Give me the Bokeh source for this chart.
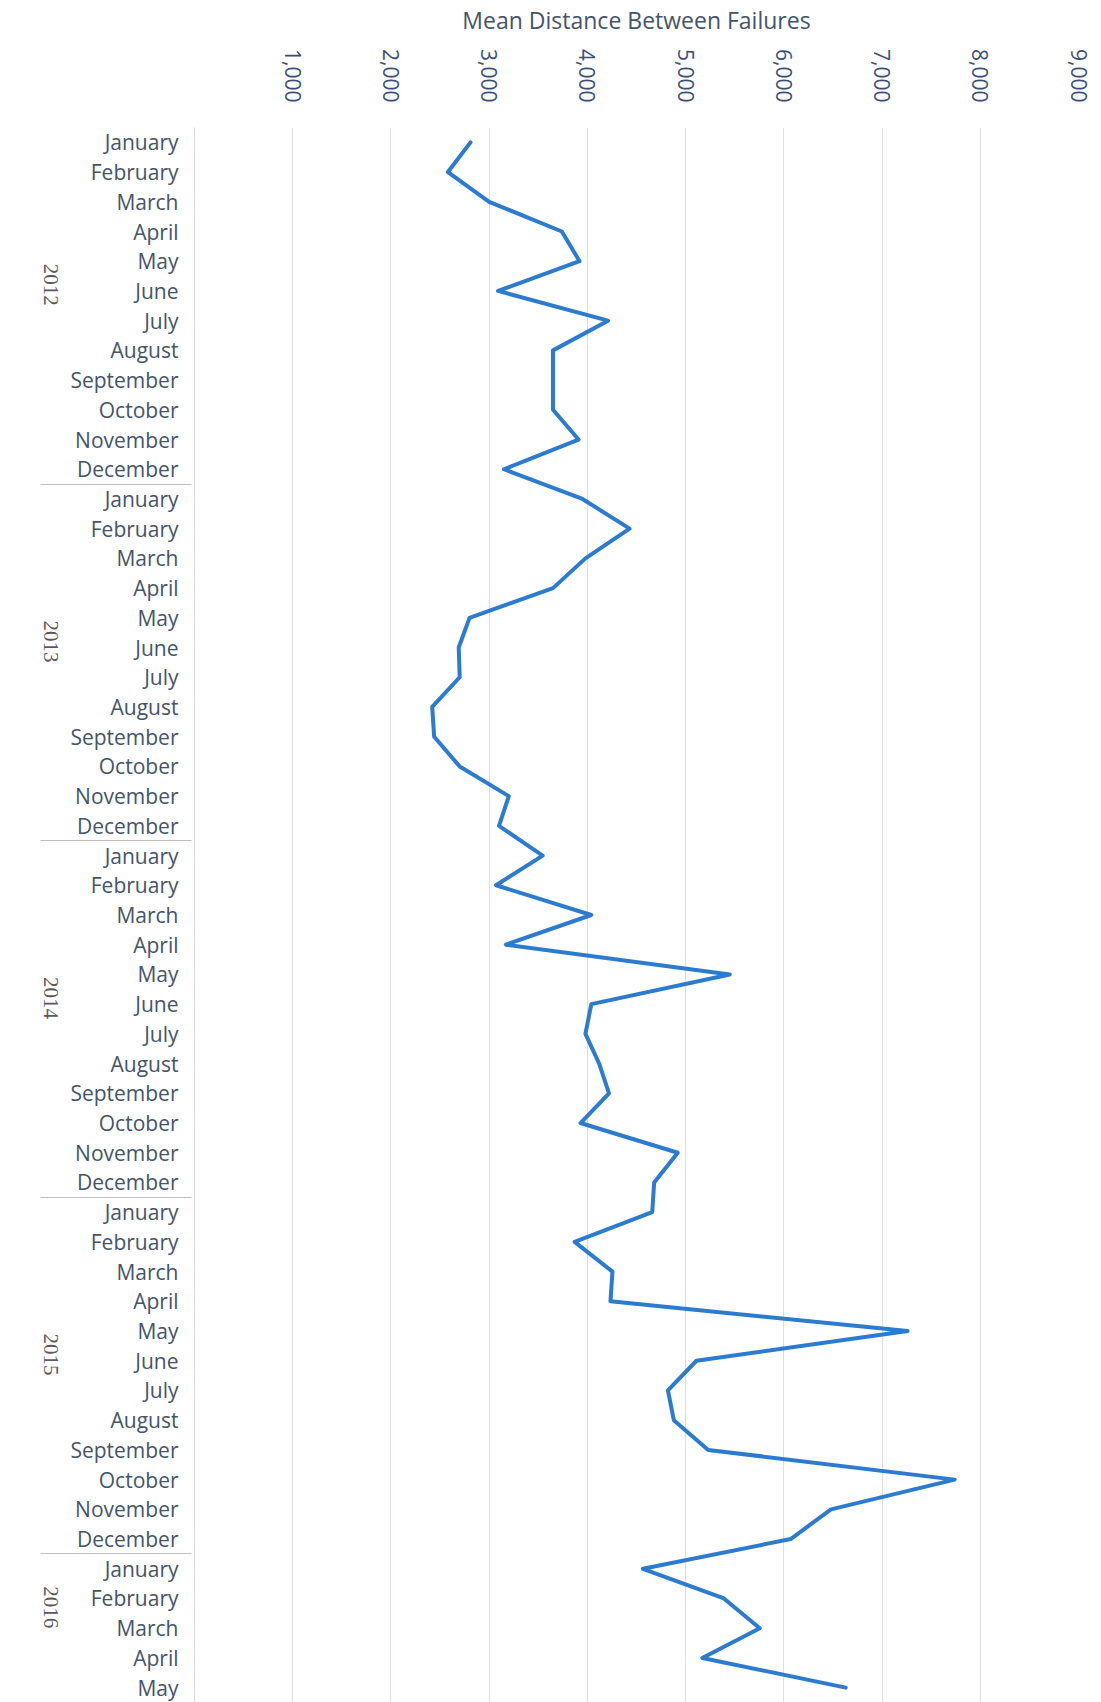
import math
from bokeh.plotting import figure
from bokeh.models import FactorRange, Range1d, NumeralTickFormatter, FixedTicker
from bokeh.embed import file_html
from bokeh.resources import INLINE

years = ["2012", "2013", "2014", "2015", "2016"]
months = ["January", "February", "March", "April", "May", "June", "July",
          "August", "September", "October", "November", "December"]
months_per_year = [12, 12, 12, 12, 5]

mdbf_2012 = [2810, 2580, 3000, 3740, 3920, 3090, 4210, 3650, 3650, 3650, 3910, 3150]
mdbf_2013 = [3950, 4430, 3980, 3650, 2800, 2690, 2700, 2420, 2440, 2700, 3200, 3100]
mdbf_2014 = [3545, 3070, 4040, 3170, 5450, 4040, 3980, 4120, 4220, 3930, 4920, 4680]
mdbf_2015 = [4660, 3870, 4255, 4235, 7260, 5110, 4820, 4880, 5230, 7740, 6480, 6070]
mdbf_2016 = [4565, 5390, 5755, 5170, 6630]

x_ticks = [1000, 2000, 3000, 4000, 5000, 6000, 7000, 8000, 9000]
title_text = "Mean Distance Between Failures"

series = [mdbf_2012, mdbf_2013, mdbf_2014, mdbf_2015, mdbf_2016]
factors, values = [], []
for yr, n, vals in zip(years, months_per_year, series):
    for m, v in zip(months[:n], vals):
        factors.append((yr, m))
        values.append(v)

y_range = FactorRange(*list(reversed(factors)), factor_padding=0,
                      group_padding=0, range_padding=0)

p = figure(width=1101, height=1702, y_range=y_range, x_range=Range1d(0, 9000),
           x_axis_location="above", output_backend="svg", toolbar_location=None,
           min_border_left=194, min_border_top=127, min_border_right=23,
           min_border_bottom=0)
p.outline_line_color = None
p.background_fill_color = "white"

p.line(x=values, y=factors, line_color="#2B7BD0", line_width=4,
       line_join="round", line_cap="round")

xa = p.xaxis[0]
xa.ticker = FixedTicker(ticks=x_ticks)
xa.formatter = NumeralTickFormatter(format="0,0")
xa.major_label_orientation = -math.pi / 2
xa.major_label_text_font = "Open Sans"
xa.major_label_text_font_size = "21px"
xa.major_label_text_color = "#3B4E78"
xa.major_label_standoff = 25
xa.major_tick_line_color = None
xa.minor_tick_line_color = None
xa.major_tick_out = 0
xa.axis_line_color = None
xa.axis_label = title_text
xa.axis_label_text_font = "Open Sans"
xa.axis_label_text_font_size = "23px"
xa.axis_label_text_font_style = "normal"
xa.axis_label_text_color = "#44546A"
xa.axis_label_standoff = 10

ya = p.yaxis[0]
ya.major_label_text_font = "Open Sans"
ya.major_label_text_font_size = "21px"
ya.major_label_text_color = "#44546A"
ya.major_label_standoff = 16
ya.major_tick_line_color = None
ya.major_tick_out = 0
ya.axis_line_color = "#D9D9D9"
ya.group_text_font = "Liberation Serif"
ya.group_text_font_size = "21px"
ya.group_text_font_style = "normal"
ya.group_text_line_height = 2.0
ya.group_text_color = "#595959"
ya.group_label_orientation = -math.pi / 2
ya.separator_line_color = "#BFBFBF"
ya.separator_line_width = 1

p.xgrid.grid_line_color = "#DCDCE6"
p.xgrid.grid_line_width = 1
p.ygrid.grid_line_color = None

open("out.html", "w").write(file_html(p, INLINE))
